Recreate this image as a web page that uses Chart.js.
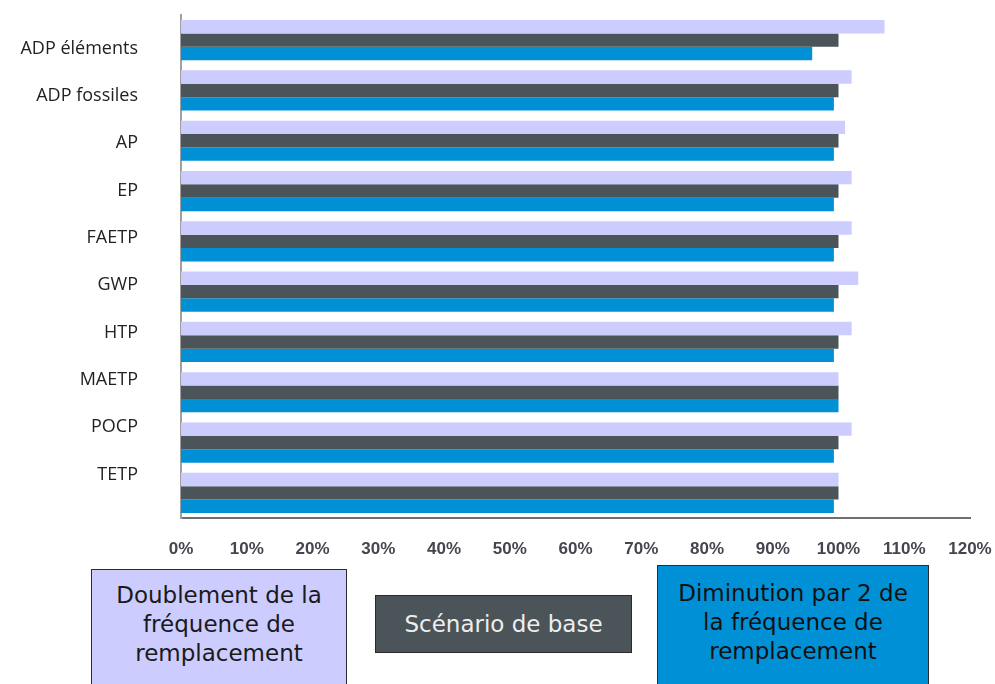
<!DOCTYPE html>
<html>
<head>
  <title>Fréquence de remplacement</title>
  <script src="https://cdn.jsdelivr.net/npm/chart.js@4.4.2/dist/chart.umd.min.js"></script>
  <style>
    body { margin: 0; background: #fff; font-family: "DejaVu Sans", sans-serif; }
    #wrap { position: absolute; left: 0; top: 0; width: 995px; height: 565px; }
    .box { position: absolute; box-sizing: border-box; border: 1.5px solid #2b2b2b; text-align: center;
           font-size: 23px; line-height: 29px; }
    #b1 { left: 91px; top: 569px; width: 256px; height: 130px; background: #ccccff; color: #1a1a1a; padding-top: 11px; }
    #b2 { left: 375px; top: 595px; width: 257px; height: 58px; background: #4a5459; color: #eeeeee; padding-top: 14px; }
    #b3 { left: 657px; top: 565px; width: 272px; height: 130px; background: #0090d6; color: #111; padding-top: 13px; }
  </style>
</head>
<body>
<div id="wrap"><canvas id="chart"></canvas></div>
<div class="box" id="b1">Doublement de la<br>fréquence de<br>remplacement</div>
<div class="box" id="b2">Scénario de base</div>
<div class="box" id="b3">Diminution par 2 de<br>la fréquence de<br>remplacement</div>
<script>
const categories = ['ADP éléments', 'ADP fossiles', 'AP', 'EP', 'FAETP', 'GWP', 'HTP', 'MAETP', 'POCP', 'TETP'];
const seriesNames = ['Doublement de la fréquence de remplacement', 'Scénario de base', 'Diminution par 2 de la fréquence de remplacement'];
const doublement = [107, 102, 101, 102, 102, 103, 102, 100, 102, 100];
const base = [100, 100, 100, 100, 100, 100, 100, 100, 100, 100];
const diminution = [96, 99.3, 99.3, 99.3, 99.3, 99.3, 99.3, 100, 99.3, 99.3];
const xTicks = [0, 10, 20, 30, 40, 50, 60, 70, 80, 90, 100, 110, 120];

// the category names sit a little off the bar groups, drifting apart down the chart
const labelMin = -0.18, labelMax = 9.39;

const ctx = document.getElementById('chart').getContext('2d');
const chart = new Chart(ctx, {
  type: 'bar',
  data: {
    labels: categories,
    datasets: [
      { label: seriesNames[0], data: doublement, backgroundColor: '#ccccff' },
      { label: seriesNames[1], data: base, backgroundColor: '#4a5459' },
      { label: seriesNames[2], data: diminution, backgroundColor: '#0090d6' }
    ]
  },
  options: {
    indexAxis: 'y',
    responsive: true,
    maintainAspectRatio: false,
    animation: false,
    layout: { padding: { top: 15, right: 25, left: 0, bottom: 0 } },
    datasets: { bar: { categoryPercentage: 0.8, barPercentage: 1.0 } },
    plugins: { legend: { display: false }, tooltip: { enabled: false } },
    scales: {
      x: {
        type: 'linear', min: 0, max: 120,
        grid: { display: false, drawTicks: false },
        border: { display: true, color: '#6e6e6e', width: 2 },
        afterBuildTicks: axis => { axis.ticks = xTicks.map(v => ({ value: v })); },
        afterFit: axis => { axis.height = 47; axis.paddingLeft = 0; axis.paddingRight = 0; },
        ticks: {
          padding: 21,
          color: '#45454f',
          font: { family: 'Liberation Sans', size: 17, weight: 'bold' },
          callback: v => v + '%'
        }
      },
      y: { type: 'category', display: false },
      yLabels: {
        type: 'linear', position: 'left', reverse: true, bounds: 'data',
        min: labelMin, max: labelMax,
        grid: { display: false, drawTicks: false },
        border: { display: true, color: '#a0a0a0', width: 2 },
        afterBuildTicks: axis => {
          axis.ticks = categories.map((c, i) => ({ value: i }));
          axis.min = labelMin;
          axis.max = labelMax;
        },
        afterFit: axis => { axis.width = 181; axis.paddingTop = 0; axis.paddingBottom = 0; },
        ticks: {
          padding: 43,
          color: '#222',
          font: { family: 'Open Sans', size: 18 },
          callback: v => categories[v]
        }
      }
    }
  }
});
</script>
</body>
</html>
